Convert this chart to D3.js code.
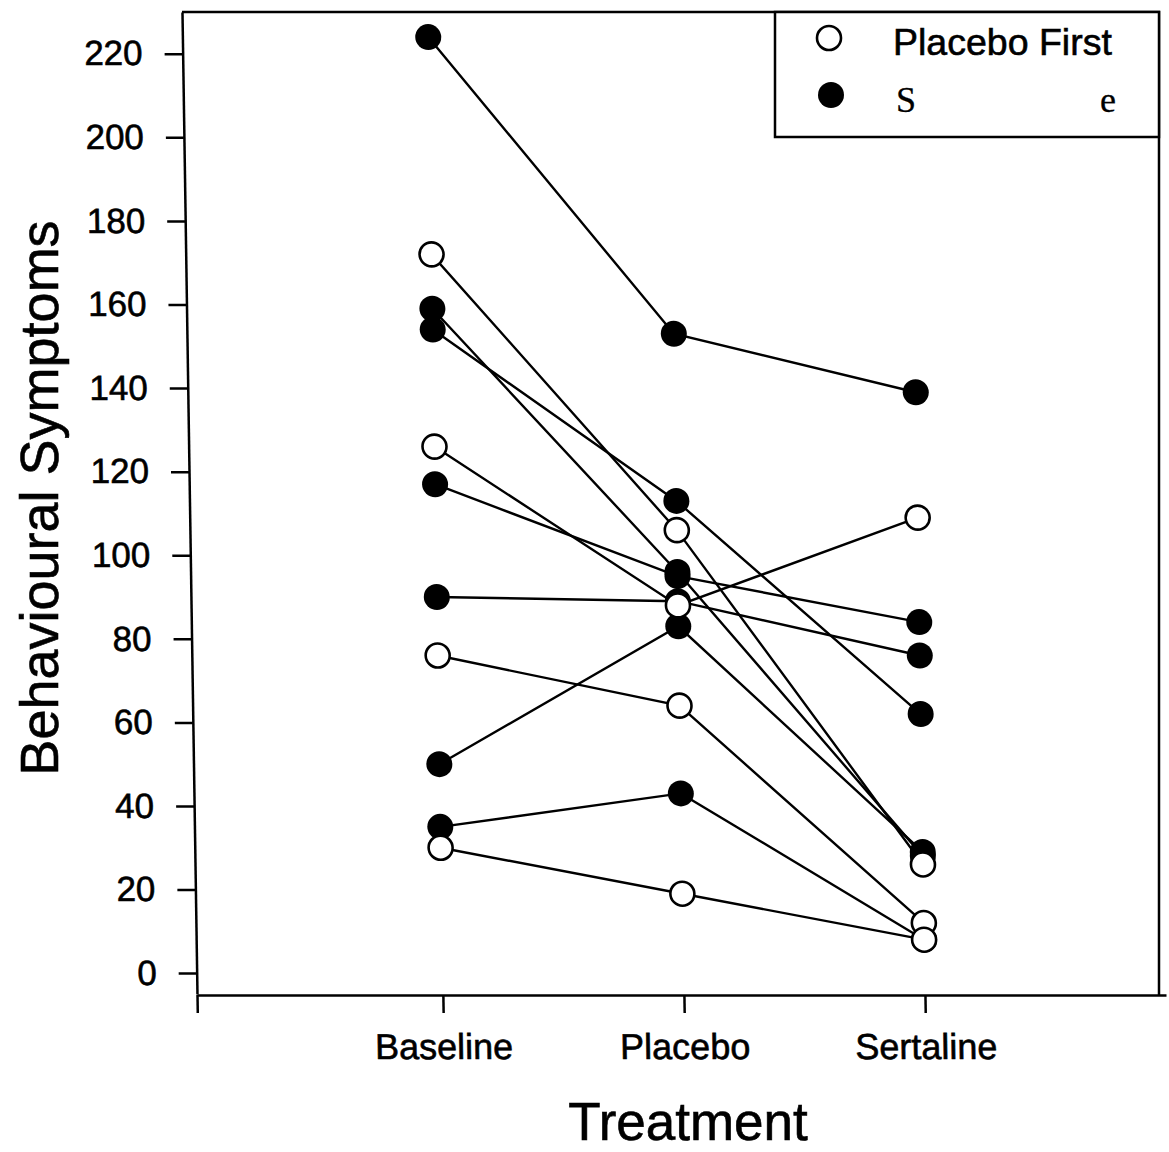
<!DOCTYPE html>
<html lang="en">
<head>
<meta charset="utf-8">
<title>Behavioural Symptoms by Treatment</title>
<script src="https://cdnjs.cloudflare.com/ajax/libs/d3/7.8.5/d3.min.js"></script>
<style>
  body { margin: 0; background: #fff; }
  svg { display: block; background: #fff; }
  text { font-family: "Liberation Sans", Arial, Helvetica, sans-serif; fill: #000; stroke: #000; stroke-width: 0.6; }
  .axis path, .axis line { stroke: #000; stroke-width: 2.5; }
  .axis text { font-family: "Liberation Sans", Arial, sans-serif; }
</style>
</head>
<body>
<script>
// categories on the x axis
const stages = ["Baseline", "Placebo", "Sertaline"];
// one row per patient: baseline, placebo, sertaline
const placeboFirst = [
  [172, 106, 26],
  [126, 88, 109],
  [76, 64, 12],
  [30, 19, 8]
];
const sertalineFirst = [
  [224, 153, 139],
  [159, 96, 28],
  [154, 113, 62],
  [117, 95, 84],
  [90, 89, 76],
  [50, 83, 29],
  [35, 43, 8]
];
const yTicks = [0, 20, 40, 60, 80, 100, 120, 140, 160, 180, 200, 220];
const legendLabels = ["Placebo First", "S", "e"];

const W = 1169, H = 1152;
const baseY = 995;           // x axis line
const skewDeg = 0.875;       // the scanned page leans a little
const k = Math.tan(skewDeg * Math.PI / 180);

const svg = d3.select("body").append("svg")
  .attr("width", W)
  .attr("height", H);

const xMin = -0.02;
const x = d3.scaleLinear().domain([xMin, 4]).range([197, 1166]);
const y = d3.scaleLinear().domain([-5, 230]).range([994, 12]);

// everything inside the frame leans with the scan
const plot = svg.append("g")
  .attr("transform", `translate(0,${baseY}) skewX(${skewDeg}) translate(0,${-baseY})`);

// y axis
plot.append("g")
  .attr("class", "axis")
  .attr("transform", `translate(${x(xMin)},0)`)
  .call(d3.axisLeft(y).tickValues(yTicks).tickSize(18).tickSizeOuter(0).tickPadding(22))
  .call(g => g.selectAll("text").style("font-size", "35px"));

// x axis
plot.append("g")
  .attr("class", "axis")
  .attr("transform", `translate(0,${baseY})`)
  .call(d3.axisBottom(x).tickValues([xMin, 1, 2, 3])
    .tickFormat(d => d < 1 ? "" : stages[d - 1])
    .tickSize(18).tickSizeOuter(0).tickPadding(20))
  .call(g => g.selectAll("text").style("font-size", "36px"));

const line = d3.line()
  .x((d, i) => x(i + 1))
  .y(d => y(d));

const allRows = sertalineFirst.concat(placeboFirst);

plot.append("g").selectAll("path")
  .data(allRows)
  .enter()
  .append("path")
  .attr("d", line)
  .attr("fill", "none")
  .attr("stroke", "#000")
  .attr("stroke-width", 2.4);

// filled markers first, open ones sit on top
plot.append("g").selectAll("circle")
  .data(sertalineFirst.flatMap(r => r.map((v, i) => ({ v, i }))))
  .enter()
  .append("circle")
  .attr("cx", d => x(d.i + 1))
  .attr("cy", d => y(d.v))
  .attr("r", 13)
  .attr("fill", "#000");

plot.append("g").selectAll("circle")
  .data(placeboFirst.flatMap(r => r.map((v, i) => ({ v, i }))))
  .enter()
  .append("circle")
  .attr("cx", d => x(d.i + 1))
  .attr("cy", d => y(d.v))
  .attr("r", 12)
  .attr("fill", "#fff")
  .attr("stroke", "#000")
  .attr("stroke-width", 2.6);

// top and right sides of the frame
const topLeft = x(xMin) - (baseY - y(230)) * k;
svg.append("path")
  .attr("d", `M${topLeft},${y(230)} H1159 V${baseY}`)
  .attr("fill", "none")
  .attr("stroke", "#000")
  .attr("stroke-width", 2.5);

// axis titles
svg.append("text")
  .attr("transform", "translate(58,498) rotate(-90)")
  .attr("text-anchor", "middle")
  .style("font-size", "54px")
  .text("Behavioural Symptoms");

svg.append("text")
  .attr("x", 688)
  .attr("y", 1140)
  .attr("text-anchor", "middle")
  .style("font-size", "53px")
  .text("Treatment");

// legend
const legend = svg.append("g");
legend.append("rect")
  .attr("x", 775).attr("y", 12)
  .attr("width", 384).attr("height", 125)
  .attr("fill", "#fff")
  .attr("stroke", "#000")
  .attr("stroke-width", 2.5);
legend.append("circle")
  .attr("cx", 829).attr("cy", 38).attr("r", 12)
  .attr("fill", "#fff").attr("stroke", "#000").attr("stroke-width", 2.6);
legend.append("circle")
  .attr("cx", 831).attr("cy", 95).attr("r", 13)
  .attr("fill", "#000");
legend.append("text")
  .attr("x", 893).attr("y", 55)
  .style("font-size", "37.5px")
  .text(legendLabels[0]);
legend.append("text")
  .attr("x", 896).attr("y", 112)
  .style("font-family", "'Liberation Serif', 'Times New Roman', serif")
  .style("stroke-width", 0.3)
  .style("font-size", "36px")
  .text(legendLabels[1]);
legend.append("text")
  .attr("x", 1100).attr("y", 112)
  .style("font-family", "'Liberation Serif', 'Times New Roman', serif")
  .style("stroke-width", 0.3)
  .style("font-size", "36px")
  .text(legendLabels[2]);
</script>
</body>
</html>
